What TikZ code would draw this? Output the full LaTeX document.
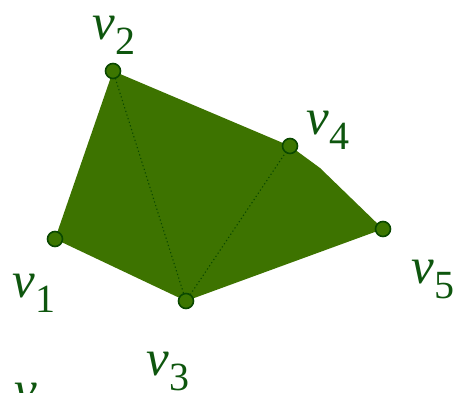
\documentclass[tikz,border=0pt]{standalone}
\usepackage{fontspec}
\setmainfont{Liberation Serif}
\definecolor{polyfill}{RGB}{61,115,0}
\definecolor{ptfill}{RGB}{60,118,0}
\definecolor{ptline}{RGB}{10,72,0}
\definecolor{labcol}{RGB}{14,86,14}
\newcommand{\vlab}[1]{\fontsize{51}{51}\selectfont\itshape v\kern1pt\raisebox{-15pt}{\fontsize{40}{40}\selectfont\upshape #1}}
\begin{document}
\begin{tikzpicture}[x=1pt,y=-1pt,
  vtx/.style={circle,draw=ptline,fill=ptfill,line width=1.6pt,minimum size=15pt,inner sep=0pt},
  lab/.style={anchor=base west,inner sep=0pt,text=labcol},
  diag/.style={line width=1.1pt,draw=ptline,dash pattern=on 1.2pt off 2.6pt}]
\clip (0,0) rectangle (460,393);
\useasboundingbox (0,0) rectangle (460,393);
\coordinate (p1) at (55,239);
\coordinate (p2) at (113,71);
\coordinate (p4) at (290,146);
\coordinate (k) at (320,168);
\coordinate (p5) at (383,229);
\coordinate (p3) at (186,301);
\fill[polyfill] (p1) -- (p2) -- (p4) -- (k) -- (p5) -- (p3) -- cycle;
\draw[diag] (p2) -- (p3);
\draw[diag] (p3) -- (p4);
\node[vtx] (n1) at (p1) {};
\node[vtx] (n2) at (p2) {};
\node[vtx] (n3) at (p3) {};
\node[vtx] (n4) at (p4) {};
\node[vtx] (n5) at (p5) {};
\node[lab] (l2) at (92,40) {\vlab{2}};
\node[lab] (l4) at (306,135) {\vlab{4}};
\node[lab] (l3) at (146,375) {\vlab{3}};
\node[lab] (l5) at (411,283) {\vlab{5}};
\node[lab] (l1) at (12,297) {\vlab{1}};
\node[lab] (l6) at (14,406) {\vlab{6}};
\end{tikzpicture}
\end{document}
